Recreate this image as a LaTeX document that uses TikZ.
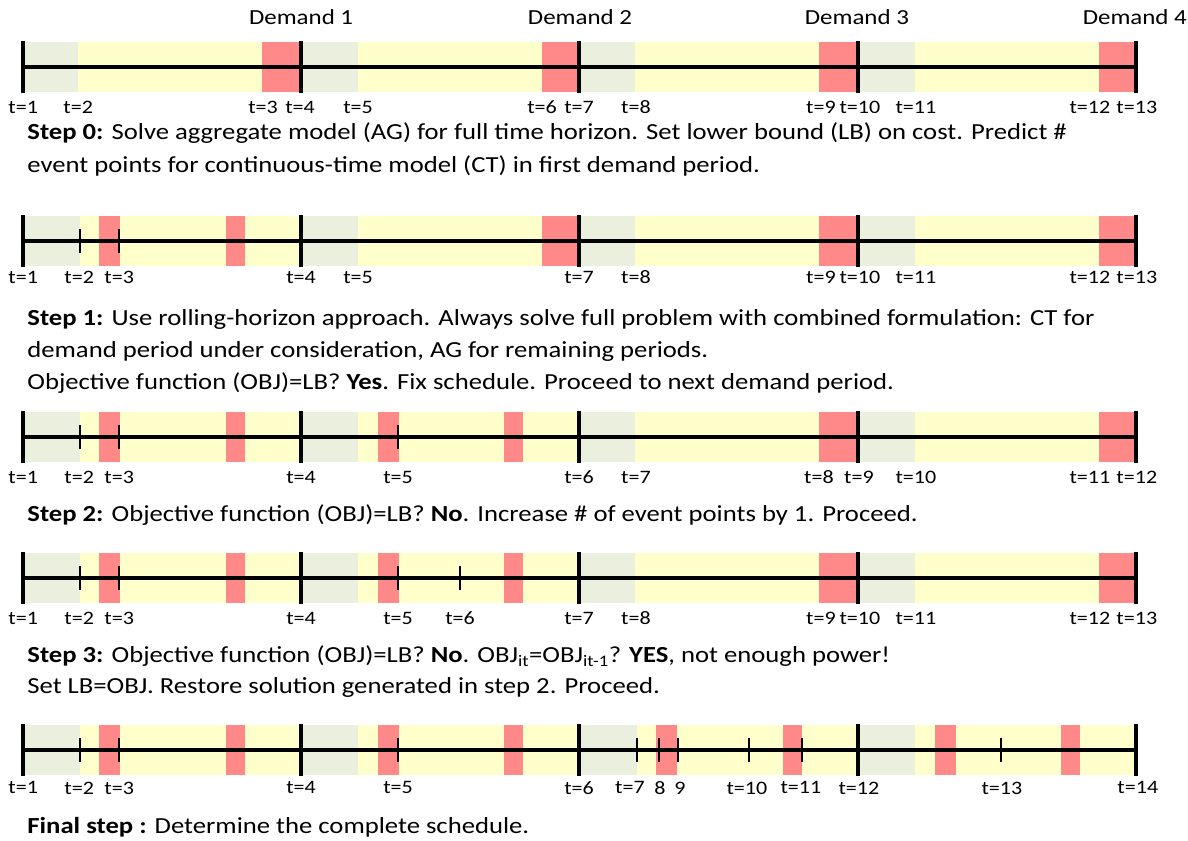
\documentclass[tikz,border=0pt]{standalone}
\usepackage{fontspec}
\setmainfont{Carlito}[FakeStretch=1.16]
\usepackage{tikz}
\definecolor{idlegray}{RGB}{235,239,222}
\definecolor{prodyellow}{RGB}{255,255,204}
\definecolor{demred}{RGB}{255,136,136}
\newcommand{\labfont}{\fontsize{19}{23}\selectfont}
\newcommand{\demfont}{\fontsize{21.5}{26}\selectfont}
\newcommand{\notefont}{\fontsize{23}{28}\selectfont}

\begin{document}
\begin{tikzpicture}[scale=1.000000,x=1pt,y=1pt,
  idlebox/.style={fill=idlegray,draw=none},
  prodbox/.style={fill=prodyellow,draw=none},
  dembox/.style={fill=demred,draw=none},
  timeaxis/.style={line width=3.5pt,color=black},
  bigtick/.style={line width=4pt,color=black},
  smalltick/.style={line width=2pt,color=black},
  tlab/.style={inner sep=0pt,font=\labfont},
  demlab/.style={inner sep=0pt,font=\demfont},
  note/.style={inner sep=0pt,anchor=west,font=\notefont}]
\filldraw[color=white] (0.000000, 0.000000) rectangle (1188.000000, 840.000000);
% Drawing demand labels
\draw (301.000000, 823.000000) node[demlab] (d1) {Demand 1};
\draw (580.000000, 823.000000) node[demlab] (d2) {Demand 2};
\draw (857.000000, 823.000000) node[demlab] (d3) {Demand 3};
\draw (1135.000000, 823.000000) node[demlab] (d4) {Demand 4};
% Line 1: aggregate model, full horizon
\filldraw[prodbox] (23.000000, 748.000000) rectangle (1136.000000, 798.000000);
\filldraw[idlebox] (23.000000, 748.000000) rectangle (78.000000, 798.000000);
\filldraw[idlebox] (301.000000, 748.000000) rectangle (358.000000, 798.000000);
\filldraw[idlebox] (579.000000, 748.000000) rectangle (635.000000, 798.000000);
\filldraw[idlebox] (858.000000, 748.000000) rectangle (915.000000, 798.000000);
\filldraw[dembox] (262.000000, 748.000000) rectangle (301.000000, 798.000000);
\filldraw[dembox] (542.000000, 748.000000) rectangle (579.000000, 798.000000);
\filldraw[dembox] (819.000000, 748.000000) rectangle (858.000000, 798.000000);
\filldraw[dembox] (1099.000000, 748.000000) rectangle (1136.000000, 798.000000);
\draw[timeaxis] (23.000000, 773.000000) -- (1136.000000, 773.000000);
\draw[bigtick] (23.000000, 747.000000) -- (23.000000, 799.000000);
\draw[bigtick] (301.000000, 747.000000) -- (301.000000, 799.000000);
\draw[bigtick] (579.000000, 747.000000) -- (579.000000, 799.000000);
\draw[bigtick] (858.000000, 747.000000) -- (858.000000, 799.000000);
\draw[bigtick] (1136.000000, 747.000000) -- (1136.000000, 799.000000);
\draw (23.000000, 733.000000) node[tlab] (a1) {t=1};
\draw (78.000000, 733.000000) node[tlab] (a2) {t=2};
\draw (263.000000, 733.000000) node[tlab] (a3) {t=3};
\draw (300.000000, 733.000000) node[tlab] (a4) {t=4};
\draw (358.000000, 733.000000) node[tlab] (a5) {t=5};
\draw (542.000000, 733.000000) node[tlab] (a6) {t=6};
\draw (579.000000, 733.000000) node[tlab] (a7) {t=7};
\draw (636.000000, 733.000000) node[tlab] (a8) {t=8};
\draw (821.000000, 733.000000) node[tlab] (a9) {t=9};
\draw (860.000000, 733.000000) node[tlab] (a10) {t=10};
\draw (916.000000, 733.000000) node[tlab] (a11) {t=11};
\draw (1090.000000, 733.000000) node[tlab] (a12) {t=12};
\draw (1137.000000, 733.000000) node[tlab] (a13) {t=13};
\draw (27.000000, 707.000000) node[note] (n0a) {\textbf{Step 0:} Solve aggregate model (AG) for full time horizon. Set lower bound (LB) on cost. Predict \#};
\draw (27.000000, 674.000000) node[note] (n0b) {event points for continuous-time model (CT) in first demand period.};
% Line 2: CT in first demand period
\filldraw[prodbox] (23.000000, 574.000000) rectangle (1136.000000, 624.000000);
\filldraw[idlebox] (23.000000, 574.000000) rectangle (80.000000, 624.000000);
\filldraw[idlebox] (301.000000, 574.000000) rectangle (358.000000, 624.000000);
\filldraw[idlebox] (579.000000, 574.000000) rectangle (635.000000, 624.000000);
\filldraw[idlebox] (858.000000, 574.000000) rectangle (915.000000, 624.000000);
\filldraw[dembox] (99.000000, 574.000000) rectangle (120.000000, 624.000000);
\filldraw[dembox] (226.000000, 574.000000) rectangle (245.000000, 624.000000);
\filldraw[dembox] (542.000000, 574.000000) rectangle (579.000000, 624.000000);
\filldraw[dembox] (819.000000, 574.000000) rectangle (858.000000, 624.000000);
\filldraw[dembox] (1099.000000, 574.000000) rectangle (1136.000000, 624.000000);
\draw[timeaxis] (23.000000, 599.000000) -- (1136.000000, 599.000000);
\draw[smalltick] (80.000000, 587.000000) -- (80.000000, 611.000000);
\draw[smalltick] (119.000000, 587.000000) -- (119.000000, 611.000000);
\draw[bigtick] (23.000000, 573.000000) -- (23.000000, 625.000000);
\draw[bigtick] (301.000000, 573.000000) -- (301.000000, 625.000000);
\draw[bigtick] (579.000000, 573.000000) -- (579.000000, 625.000000);
\draw[bigtick] (858.000000, 573.000000) -- (858.000000, 625.000000);
\draw[bigtick] (1136.000000, 573.000000) -- (1136.000000, 625.000000);
\draw (23.000000, 563.000000) node[tlab] (b1) {t=1};
\draw (79.000000, 563.000000) node[tlab] (b2) {t=2};
\draw (119.000000, 563.000000) node[tlab] (b3) {t=3};
\draw (301.000000, 563.000000) node[tlab] (b4) {t=4};
\draw (358.000000, 563.000000) node[tlab] (b5) {t=5};
\draw (579.000000, 563.000000) node[tlab] (b7) {t=7};
\draw (636.000000, 563.000000) node[tlab] (b8) {t=8};
\draw (821.000000, 563.000000) node[tlab] (b9) {t=9};
\draw (860.000000, 563.000000) node[tlab] (b10) {t=10};
\draw (916.000000, 563.000000) node[tlab] (b11) {t=11};
\draw (1090.000000, 563.000000) node[tlab] (b12) {t=12};
\draw (1137.000000, 563.000000) node[tlab] (b13) {t=13};
\draw (27.000000, 521.000000) node[note] (n1a) {\textbf{Step 1:} Use rolling-horizon approach. Always solve full problem with combined formulation: CT for};
\draw (27.000000, 489.000000) node[note] (n1b) {demand period under consideration, AG for remaining periods.};
\draw (27.000000, 457.000000) node[note] (n1c) {Objective function (OBJ)=LB? \textbf{Yes}. Fix schedule. Proceed to next demand period.};
% Line 3: CT in second demand period
\filldraw[prodbox] (23.000000, 378.000000) rectangle (1136.000000, 428.000000);
\filldraw[idlebox] (23.000000, 378.000000) rectangle (80.000000, 428.000000);
\filldraw[idlebox] (301.000000, 378.000000) rectangle (358.000000, 428.000000);
\filldraw[idlebox] (579.000000, 378.000000) rectangle (635.000000, 428.000000);
\filldraw[idlebox] (858.000000, 378.000000) rectangle (915.000000, 428.000000);
\filldraw[dembox] (99.000000, 378.000000) rectangle (120.000000, 428.000000);
\filldraw[dembox] (226.000000, 378.000000) rectangle (245.000000, 428.000000);
\filldraw[dembox] (378.000000, 378.000000) rectangle (399.000000, 428.000000);
\filldraw[dembox] (504.000000, 378.000000) rectangle (523.000000, 428.000000);
\filldraw[dembox] (819.000000, 378.000000) rectangle (858.000000, 428.000000);
\filldraw[dembox] (1099.000000, 378.000000) rectangle (1136.000000, 428.000000);
\draw[timeaxis] (23.000000, 403.000000) -- (1136.000000, 403.000000);
\draw[smalltick] (80.000000, 391.000000) -- (80.000000, 415.000000);
\draw[smalltick] (119.000000, 391.000000) -- (119.000000, 415.000000);
\draw[smalltick] (398.000000, 391.000000) -- (398.000000, 415.000000);
\draw[bigtick] (23.000000, 377.000000) -- (23.000000, 429.000000);
\draw[bigtick] (301.000000, 377.000000) -- (301.000000, 429.000000);
\draw[bigtick] (579.000000, 377.000000) -- (579.000000, 429.000000);
\draw[bigtick] (858.000000, 377.000000) -- (858.000000, 429.000000);
\draw[bigtick] (1136.000000, 377.000000) -- (1136.000000, 429.000000);
\draw (23.000000, 363.000000) node[tlab] (c1) {t=1};
\draw (79.000000, 363.000000) node[tlab] (c2) {t=2};
\draw (119.000000, 363.000000) node[tlab] (c3) {t=3};
\draw (301.000000, 363.000000) node[tlab] (c4) {t=4};
\draw (398.000000, 363.000000) node[tlab] (c5) {t=5};
\draw (579.000000, 363.000000) node[tlab] (c6) {t=6};
\draw (636.000000, 363.000000) node[tlab] (c7) {t=7};
\draw (819.000000, 363.000000) node[tlab] (c8) {t=8};
\draw (859.000000, 363.000000) node[tlab] (c9) {t=9};
\draw (916.000000, 363.000000) node[tlab] (c10) {t=10};
\draw (1090.000000, 363.000000) node[tlab] (c11) {t=11};
\draw (1137.000000, 363.000000) node[tlab] (c12) {t=12};
\draw (27.000000, 325.000000) node[note] (n2a) {\textbf{Step 2:} Objective function (OBJ)=LB? \textbf{No}. Increase \# of event points by 1. Proceed.};
% Line 4: one more event point
\filldraw[prodbox] (23.000000, 237.000000) rectangle (1136.000000, 287.000000);
\filldraw[idlebox] (23.000000, 237.000000) rectangle (80.000000, 287.000000);
\filldraw[idlebox] (301.000000, 237.000000) rectangle (358.000000, 287.000000);
\filldraw[idlebox] (579.000000, 237.000000) rectangle (635.000000, 287.000000);
\filldraw[idlebox] (858.000000, 237.000000) rectangle (915.000000, 287.000000);
\filldraw[dembox] (99.000000, 237.000000) rectangle (120.000000, 287.000000);
\filldraw[dembox] (226.000000, 237.000000) rectangle (245.000000, 287.000000);
\filldraw[dembox] (378.000000, 237.000000) rectangle (399.000000, 287.000000);
\filldraw[dembox] (504.000000, 237.000000) rectangle (523.000000, 287.000000);
\filldraw[dembox] (819.000000, 237.000000) rectangle (858.000000, 287.000000);
\filldraw[dembox] (1099.000000, 237.000000) rectangle (1136.000000, 287.000000);
\draw[timeaxis] (23.000000, 262.000000) -- (1136.000000, 262.000000);
\draw[smalltick] (80.000000, 250.000000) -- (80.000000, 274.000000);
\draw[smalltick] (119.000000, 250.000000) -- (119.000000, 274.000000);
\draw[smalltick] (398.000000, 250.000000) -- (398.000000, 274.000000);
\draw[smalltick] (460.000000, 250.000000) -- (460.000000, 274.000000);
\draw[bigtick] (23.000000, 236.000000) -- (23.000000, 288.000000);
\draw[bigtick] (301.000000, 236.000000) -- (301.000000, 288.000000);
\draw[bigtick] (579.000000, 236.000000) -- (579.000000, 288.000000);
\draw[bigtick] (858.000000, 236.000000) -- (858.000000, 288.000000);
\draw[bigtick] (1136.000000, 236.000000) -- (1136.000000, 288.000000);
\draw (23.000000, 222.000000) node[tlab] (e1) {t=1};
\draw (79.000000, 222.000000) node[tlab] (e2) {t=2};
\draw (119.000000, 222.000000) node[tlab] (e3) {t=3};
\draw (301.000000, 222.000000) node[tlab] (e4) {t=4};
\draw (398.000000, 222.000000) node[tlab] (e5) {t=5};
\draw (460.000000, 222.000000) node[tlab] (e6) {t=6};
\draw (579.000000, 222.000000) node[tlab] (e7) {t=7};
\draw (636.000000, 222.000000) node[tlab] (e8) {t=8};
\draw (821.000000, 222.000000) node[tlab] (e9) {t=9};
\draw (860.000000, 222.000000) node[tlab] (e10) {t=10};
\draw (916.000000, 222.000000) node[tlab] (e11) {t=11};
\draw (1090.000000, 222.000000) node[tlab] (e12) {t=12};
\draw (1137.000000, 222.000000) node[tlab] (e13) {t=13};
\draw (27.000000, 184.000000) node[note] (n3a) {\textbf{Step 3:} Objective function (OBJ)=LB? \textbf{No}. OBJ\textsubscript{it}=OBJ\textsubscript{it-1}? \textbf{YES}, not enough power!};
\draw (27.000000, 152.000000) node[note] (n3b) {Set LB=OBJ. Restore solution generated in step 2. Proceed.};
% Line 5: complete schedule
\filldraw[prodbox] (23.000000, 65.000000) rectangle (1136.000000, 115.000000);
\filldraw[idlebox] (23.000000, 65.000000) rectangle (80.000000, 115.000000);
\filldraw[idlebox] (301.000000, 65.000000) rectangle (358.000000, 115.000000);
\filldraw[idlebox] (579.000000, 65.000000) rectangle (637.000000, 115.000000);
\filldraw[idlebox] (858.000000, 65.000000) rectangle (915.000000, 115.000000);
\filldraw[dembox] (99.000000, 65.000000) rectangle (120.000000, 115.000000);
\filldraw[dembox] (226.000000, 65.000000) rectangle (245.000000, 115.000000);
\filldraw[dembox] (378.000000, 65.000000) rectangle (399.000000, 115.000000);
\filldraw[dembox] (504.000000, 65.000000) rectangle (523.000000, 115.000000);
\filldraw[dembox] (656.000000, 65.000000) rectangle (677.000000, 115.000000);
\filldraw[dembox] (783.000000, 65.000000) rectangle (802.000000, 115.000000);
\filldraw[dembox] (935.000000, 65.000000) rectangle (956.000000, 115.000000);
\filldraw[dembox] (1061.000000, 65.000000) rectangle (1080.000000, 115.000000);
\draw[timeaxis] (23.000000, 90.000000) -- (1136.000000, 90.000000);
\draw[smalltick] (80.000000, 78.000000) -- (80.000000, 102.000000);
\draw[smalltick] (119.000000, 78.000000) -- (119.000000, 102.000000);
\draw[smalltick] (398.000000, 78.000000) -- (398.000000, 102.000000);
\draw[smalltick] (637.000000, 78.000000) -- (637.000000, 102.000000);
\draw[smalltick] (659.000000, 78.000000) -- (659.000000, 102.000000);
\draw[smalltick] (678.000000, 78.000000) -- (678.000000, 102.000000);
\draw[smalltick] (749.000000, 78.000000) -- (749.000000, 102.000000);
\draw[smalltick] (802.000000, 78.000000) -- (802.000000, 102.000000);
\draw[smalltick] (1001.000000, 78.000000) -- (1001.000000, 102.000000);
\draw[bigtick] (23.000000, 64.000000) -- (23.000000, 116.000000);
\draw[bigtick] (301.000000, 64.000000) -- (301.000000, 116.000000);
\draw[bigtick] (579.000000, 64.000000) -- (579.000000, 116.000000);
\draw[bigtick] (858.000000, 64.000000) -- (858.000000, 116.000000);
\draw[bigtick] (1136.000000, 64.000000) -- (1136.000000, 116.000000);
\draw (23.000000, 52.000000) node[tlab] (f1) {t=1};
\draw (79.000000, 52.000000) node[tlab] (f2) {t=2};
\draw (119.000000, 52.000000) node[tlab] (f3) {t=3};
\draw (301.000000, 52.000000) node[tlab] (f4) {t=4};
\draw (398.000000, 52.000000) node[tlab] (f5) {t=5};
\draw (579.000000, 52.000000) node[tlab] (f6) {t=6};
\draw (630.000000, 52.000000) node[tlab] (f7) {t=7};
\draw (660.000000, 52.000000) node[tlab] (f8) {8};
\draw (680.000000, 52.000000) node[tlab] (f9) {9};
\draw (747.000000, 52.000000) node[tlab] (f10) {t=10};
\draw (801.000000, 52.000000) node[tlab] (f11) {t=11};
\draw (859.000000, 52.000000) node[tlab] (f12) {t=12};
\draw (1002.000000, 52.000000) node[tlab] (f13) {t=13};
\draw (1138.000000, 52.000000) node[tlab] (f14) {t=14};
\draw (27.000000, 13.000000) node[note] (nf) {\textbf{Final step :} Determine the complete schedule.};
% Done with lines and notes
\end{tikzpicture}
\end{document}
